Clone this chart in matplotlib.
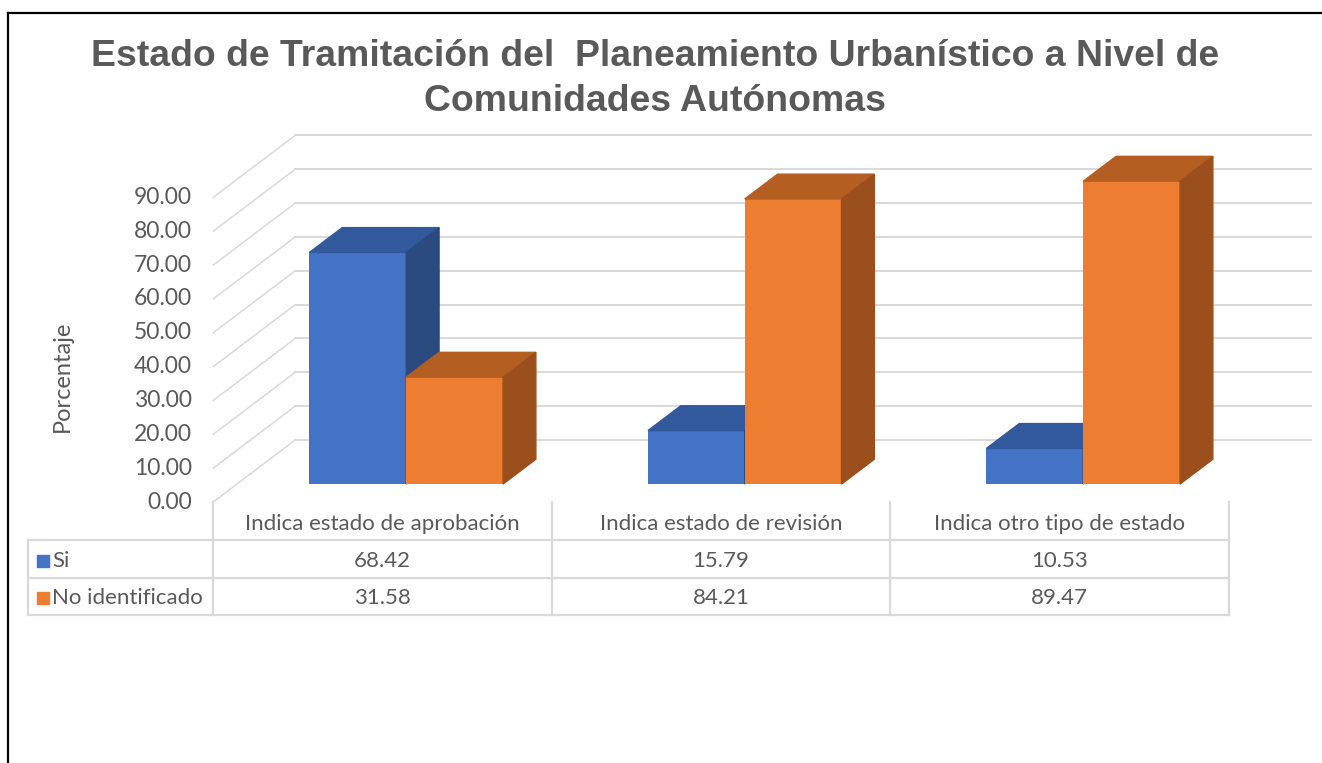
import matplotlib.pyplot as plt
from matplotlib.patches import Polygon

categories = ['Indica estado de aprobación', 'Indica estado de revisión',
              'Indica otro tipo de estado']
series_names = ['Si', 'No identificado']
si_values = [68.42, 15.79, 10.53]
no_values = [31.58, 84.21, 89.47]
y_ticks = [0, 10, 20, 30, 40, 50, 60, 70, 80, 90]

title = 'Estado de Tramitación del  Planeamiento Urbanístico a Nivel de\nComunidades Autónomas'

front_colors = ['#4472C4', '#ED7D31']
top_colors = ['#31599B', '#B45E22']
side_colors = ['#2B4A80', '#9A4F1D']
grid_col = '#D9D9D9'
text_col = '#595959'

# fake 3d: depth d in [0, 1] shifts points right by DX and up by DV
DX = 0.2422
DV = 18.32
D0, D1 = 0.29, 0.69
W = 0.286

plt.rcParams['font.family'] = ['Lato', 'DejaVu Sans']

fig = plt.figure(figsize=(13.22, 7.63), dpi=100)
ax = fig.add_axes([0, 0, 1, 1])
ax.set_xlim(-1.130, 2.7755)
ax.set_ylim(-77.1, 148.3)
ax.axis('off')

# left wall diagonals + back wall gridlines
x_left, x_right = -0.5, len(categories) - 0.5
for t in y_ticks:
    ax.plot([x_left, x_left + DX], [t, t + DV], color=grid_col, lw=1.1, zorder=1)
    ax.plot([x_left + DX, x_right + DX], [t + DV, t + DV], color=grid_col,
            lw=1.4, zorder=1)
    ax.text(x_left - 0.063, t, f'{t:.2f}', ha='right', va='center',
            fontsize=16.5, color=text_col)

ax.text(-0.945, 37, 'Porcentaje', rotation=90, ha='center', va='center',
        fontsize=17, color=text_col)


def draw_bar(x0, val, k, z):
    # front face
    ax.bar(x0 + DX * D0, val, width=W, bottom=DV * D0, align='edge',
           color=front_colors[k], zorder=z)
    fl = x0 + DX * D0
    fr = fl + W
    ft = val + DV * D0
    fb = DV * D0
    sx = DX * (D1 - D0)
    sv = DV * (D1 - D0)
    top = [(fl, ft), (fr, ft), (fr + sx, ft + sv), (fl + sx, ft + sv)]
    side = [(fr, fb), (fr + sx, fb + sv), (fr + sx, ft + sv), (fr, ft)]
    ax.add_patch(Polygon(top, closed=True, color=top_colors[k], zorder=z))
    ax.add_patch(Polygon(side, closed=True, color=side_colors[k], zorder=z))


for i in range(len(categories)):
    draw_bar(i - W, si_values[i], 0, 3 + 2 * i)
    draw_bar(i, no_values[i], 1, 4 + 2 * i)

# data table below the plot
row_edges = [0, -11.2, -22.45, -33.4]
label_left = -1.047
tbl = dict(color=grid_col, lw=1.6, zorder=1)
for j in range(len(categories) + 1):
    ax.plot([x_left + j, x_left + j], [row_edges[0], row_edges[3]], **tbl)
ax.plot([label_left, label_left], [row_edges[1], row_edges[3]], **tbl)
for r in row_edges[1:]:
    ax.plot([label_left, x_right], [r, r], **tbl)

for i, cat in enumerate(categories):
    ax.text(i, (row_edges[0] + row_edges[1]) / 2 - 0.8, cat, ha='center',
            va='center', fontsize=16, color=text_col)

rows = [si_values, no_values]
for k, (name, vals) in enumerate(zip(series_names, rows)):
    yc = (row_edges[k + 1] + row_edges[k + 2]) / 2 - 0.5
    ax.scatter([label_left + 0.044], [yc], marker='s', s=65,
               color=front_colors[k], zorder=5)
    ax.text(label_left + 0.072, yc, name, ha='left', va='center',
            fontsize=16, color=text_col)
    for i, v in enumerate(vals):
        ax.text(i, yc, f'{v:.2f}', ha='center', va='center', fontsize=16,
                color=text_col)

fig.text(655 / 1322, 1 - 79 / 763, title, ha='center', va='center',
         fontsize=26.9, fontweight='bold', color=text_col, linespacing=1.35,
         family=['Liberation Sans', 'DejaVu Sans'])

# outer frame (top and left edges)
fig.add_artist(plt.Line2D([8 / 1322, 1], [1 - 13 / 763, 1 - 13 / 763],
                          color='black', lw=1.6))
fig.add_artist(plt.Line2D([8 / 1322, 8 / 1322], [0, 1 - 13 / 763],
                          color='black', lw=1.6))

fig.savefig('out.png', dpi=100)
